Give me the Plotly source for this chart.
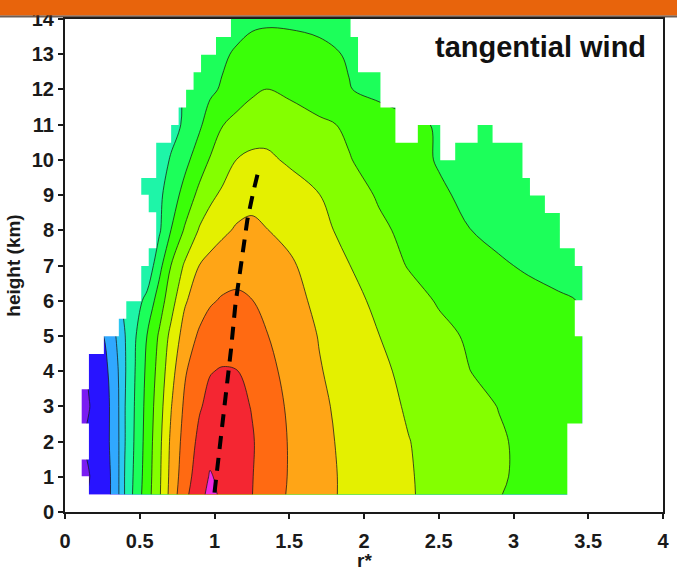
import plotly.graph_objects as go

# ---- data -------------------------------------------------------------
# radius normalised by the radius of maximum wind
r_star = [0.11, 0.16, 0.25, 0.33, 0.40, 0.47, 0.55, 0.63, 0.71, 0.80, 0.90, 0.97,
          1.05, 1.15, 1.25, 1.35, 1.50, 1.70, 1.90, 2.10, 2.30, 2.50, 2.70, 2.90,
          3.10, 3.30, 3.46]

height_km = [0.5, 1, 2, 3, 4, 5, 6, 7, 8, 9, 10, 11, 12, 13, 14]

# composite tangential wind (m/s), one row per height level
v_tan = [
    [4.0, 5.3, 7.9, 11.0, 20.2, 26.7, 32.9, 39.2, 47.0, 53.75, 58.3, 61.5, 59.0, 57.0, 55.1, 52.7, 49.5, 46.4, 44.1, 42.2, 40.4, 38.6, 36.9, 35.2, 33.6, 32.2, 31.0],
    [3.0, 4.8, 7.9, 11.0, 20.2, 26.3, 32.6, 39.0, 46.6, 52.8, 57.5, 60.4, 58.9, 57.0, 55.2, 52.9, 49.7, 46.4, 44.1, 42.2, 40.3, 38.7, 37.1, 35.5, 34.0, 32.6, 31.5],
    [4.5, 5.8, 8.2, 11.3, 19.8, 25.8, 32.2, 38.6, 46.0, 51.8, 56.2, 58.2, 58.5, 57.0, 55.4, 53.0, 49.7, 46.3, 43.8, 41.9, 40.1, 38.5, 37.0, 35.5, 34.0, 32.6, 31.5],
    [3.0, 4.8, 7.8, 11.5, 19.8, 25.5, 31.8, 37.8, 44.8, 50.8, 54.6, 56.2, 56.9, 56.3, 54.8, 52.5, 49.3, 45.9, 43.5, 41.5, 39.5, 37.9, 36.4, 34.9, 33.5, 32.2, 31.2],
    [4.0, 5.5, 8.0, 12.3, 19.5, 25.1, 31.2, 36.8, 43.2, 49.4, 53.3, 54.8, 55.3, 55.1, 53.5, 51.3, 48.7, 45.3, 43.0, 40.9, 38.9, 37.0, 35.1, 33.6, 32.4, 31.4, 30.6],
    [5.0, 7.0, 9.5, 14.2, 19.8, 24.6, 30.2, 35.6, 41.4, 47.0, 50.8, 52.2, 52.9, 52.9, 51.8, 50.2, 47.8, 44.8, 42.4, 40.05, 38.1, 36.2, 34.5, 33.0, 31.8, 30.8, 30.1],
    [8.0, 10.0, 13.0, 16.5, 21.0, 23.0, 26.4, 32.5, 38.0, 44.4, 47.7, 49.5, 50.4, 50.7, 50.1, 48.5, 46.6, 44.0, 41.4, 39.0, 36.8, 34.6, 33.4, 32.4, 31.5, 30.6, 29.8],
    [8.0, 10.0, 12.5, 15.0, 17.5, 19.5, 21.5, 28.3, 35.1, 40.6, 45.1, 46.6, 47.8, 48.5, 48.2, 47.3, 45.7, 42.9, 40.1, 37.4, 34.7, 33.3, 32.0, 30.6, 29.4, 28.4, 27.6],
    [8.0, 10.0, 12.0, 14.0, 16.0, 17.5, 18.5, 24.3, 30.1, 35.5, 40.5, 42.4, 44.0, 45.6, 46.0, 45.1, 43.8, 41.2, 38.7, 35.9, 33.8, 32.0, 30.1, 28.8, 27.8, 27.0, 26.3],
    [8.0, 10.0, 12.0, 14.0, 16.0, 19.5, 21.5, 24.0, 27.5, 31.7, 36.4, 38.9, 40.8, 42.6, 43.6, 43.3, 42.1, 40.1, 37.2, 34.5, 32.3, 30.6, 29.2, 28.0, 27.0, 26.2, 25.5],
    [8.0, 10.0, 12.0, 14.0, 16.0, 18.0, 20.5, 23.0, 25.4, 28.6, 32.5, 35.3, 37.4, 40.1, 40.9, 40.8, 39.4, 37.3, 35.2, 33.4, 31.4, 29.7, 28.6, 27.6, 26.8, 26.0, 25.3],
    [8.0, 10.0, 12.0, 14.0, 16.0, 18.0, 20.0, 22.0, 23.5, 25.6, 29.3, 32.2, 34.8, 36.6, 37.8, 38.2, 37.5, 35.8, 34.4, 32.8, 31.0, 29.6, 28.5, 27.5, 26.6, 25.8, 25.2],
    [8.0, 10.0, 12.0, 14.0, 16.0, 18.0, 20.0, 21.5, 23.0, 25.5, 27.6, 29.1, 30.5, 32.3, 34.1, 35.1, 34.0, 32.4, 30.2, 28.5, 27.5, 26.8, 26.2, 25.6, 25.2, 24.8, 24.5],
    [8.0, 10.0, 12.0, 14.0, 16.0, 18.0, 20.0, 21.5, 23.0, 24.8, 26.5, 27.8, 29.2, 30.7, 31.8, 32.1, 31.9, 31.1, 29.6, 28.5, 27.5, 26.8, 26.2, 25.6, 25.2, 24.8, 24.5],
    [8.0, 10.0, 12.0, 14.0, 16.0, 18.0, 20.0, 21.5, 23.0, 24.5, 25.8, 26.5, 27.0, 28.0, 29.0, 29.3, 29.2, 28.8, 28.0, 27.0, 26.5, 26.0, 25.6, 25.2, 24.8, 24.5, 24.2],
]

# contour levels (m/s) and the fill colour of each band, lowest band first
level_start, level_end, level_step = 5, 60, 5
band_colors = ["#7a1cf2", "#2814ff", "#30a8ff", "#2cc6f2", "#1ef5a8", "#1cff5a",
               "#3aff08", "#84ff00", "#e4f000", "#ffa516", "#ff6a12", "#f42632",
               "#f02ae0"]

# sampling of the composite: 0.5-km rows, radial bins from r*=0.11 to 3.46;
# each row lists the radial intervals that hold valid data
row_bottom_km = [0.5, 1.0, 1.5, 2.0, 2.5, 3.0, 3.5, 4.0, 4.5, 5.0, 5.5, 6.0, 6.5, 7.0,
                 7.5, 8.0, 8.5, 9.0, 9.5, 10.0, 10.5, 11.0, 11.5, 12.0, 12.5, 13.0, 13.5]
row_valid = [
    [(0.16, 3.36)], [(0.11, 3.36)], [(0.16, 3.36)], [(0.16, 3.36)],
    [(0.11, 3.46)], [(0.11, 3.46)], [(0.16, 3.46)], [(0.16, 3.46)],
    [(0.26, 3.46)], [(0.36, 3.41)], [(0.41, 3.41)], [(0.51, 3.46)],
    [(0.51, 3.46)], [(0.56, 3.41)], [(0.61, 3.31)], [(0.61, 3.31)],
    [(0.56, 3.21)], [(0.51, 3.11)], [(0.61, 3.06)],
    [(0.61, 2.51), (2.61, 3.06)],
    [(0.71, 2.21), (2.36, 2.51), (2.76, 2.86)],
    [(0.76, 2.21)], [(0.81, 2.11)], [(0.86, 2.11)], [(0.91, 1.96)],
    [(1.01, 1.96)], [(1.11, 1.91)],
]
grid_r_min, grid_r_max = 0.11, 3.46
grid_h_min = 0.5
row_depth = 0.5

# radius of maximum wind with height
rmw_r = [1.00, 1.04, 1.08, 1.11, 1.14, 1.18, 1.22, 1.26, 1.30]
rmw_h = [0.55, 2.0, 3.4, 4.6, 5.9, 7.1, 8.3, 9.1, 9.8]

x_ticks = [0, 0.5, 1, 1.5, 2, 2.5, 3, 3.5, 4]
x_tick_text = ["0", "0.5", "1", "1.5", "2", "2.5", "3", "3.5", "4"]
y_ticks = list(range(0, 15))

# ---- derived ----------------------------------------------------------
# plotly places one colour per band, evenly spread over [0, 1]
n_bands = len(band_colors)
colorscale = [[i / (n_bands - 1), c] for i, c in enumerate(band_colors)]

# white rectangles over every run of bins without data
pad, edge_pad = 0.012, 0.05
mask_x, mask_y = [], []
for y0, segs in zip(row_bottom_km, row_valid):
    bounds = [grid_r_min] + [v for seg in segs for v in seg] + [grid_r_max]
    for a, b in zip(bounds[0::2], bounds[1::2]):
        if b - a < 1e-6:
            continue
        xa = a - edge_pad if abs(a - grid_r_min) < 1e-6 else a
        xb = b + edge_pad if abs(b - grid_r_max) < 1e-6 else b
        ya = y0 - (edge_pad if abs(y0 - grid_h_min) < 1e-6 else pad)
        yb = y0 + row_depth + pad
        mask_x += [xa, xb, xb, xa, xa, None]
        mask_y += [ya, ya, yb, yb, ya, None]

# ---- figure -----------------------------------------------------------
fig = go.Figure()

fig.add_trace(go.Contour(
    x=r_star, y=height_km, z=v_tan,
    contours=dict(start=level_start, end=level_end, size=level_step, coloring="fill"),
    colorscale=colorscale,
    line=dict(color="rgba(25,25,25,0.85)", width=0.9, smoothing=1),
    showscale=False, hoverinfo="skip",
))

fig.add_trace(go.Scatter(
    x=mask_x, y=mask_y, mode="lines", fill="toself", fillcolor="white",
    line=dict(width=0, color="white"), hoverinfo="skip", showlegend=False,
))

fig.add_trace(go.Scatter(
    x=rmw_r, y=rmw_h, mode="lines",
    line=dict(color="black", width=4, dash="13px,9px"),
    hoverinfo="skip", showlegend=False,
))

font_family = "Liberation Sans, Arial, sans-serif"
axis_common = dict(
    showgrid=False, zeroline=False,
    showline=True, linecolor="#1a1a1a", linewidth=2, mirror=True,
    ticks="outside", ticklen=5, tickwidth=1.5, tickcolor="#1a1a1a",
    tickfont=dict(family=font_family, size=20, color="#1a1a1a", weight="bold"),
)

fig.update_layout(
    width=677, height=576,
    margin=dict(l=65, r=8, t=11, b=64),
    paper_bgcolor="white", plot_bgcolor="white",
    showlegend=False,
    xaxis=dict(range=[0, 4], tickvals=x_ticks, ticktext=x_tick_text,
               ticklabelstandoff=5, **axis_common),
    yaxis=dict(range=[0, 14], tickvals=y_ticks,
               title=dict(text="height (km)", standoff=6,
                          font=dict(family=font_family, size=19, color="#1a1a1a", weight="bold")),
               **axis_common),
    annotations=[
        dict(text="tangential wind", xref="paper", yref="paper",
             x=0.975, y=0.943, xanchor="right", yanchor="middle", showarrow=False,
             font=dict(family=font_family, size=29, color="#111111", weight="bold")),
        dict(text="r*", xref="paper", yref="paper",
             x=0.5, y=-0.098, xanchor="center", yanchor="middle", showarrow=False,
             font=dict(family=font_family, size=19, color="#1a1a1a", weight="bold")),
    ],
    shapes=[
        dict(type="rect", xref="paper", yref="paper", x0=-0.2, x1=1.2,
             y0=1.007, y1=1.05, fillcolor="#e8640c", line=dict(width=0), layer="above"),
        dict(type="rect", xref="paper", yref="paper", x0=-0.2, x1=1.2,
             y0=1.003, y1=1.007, fillcolor="rgba(60,40,30,0.75)", line=dict(width=0), layer="above"),
    ],
)

fig.write_html("out.html")
